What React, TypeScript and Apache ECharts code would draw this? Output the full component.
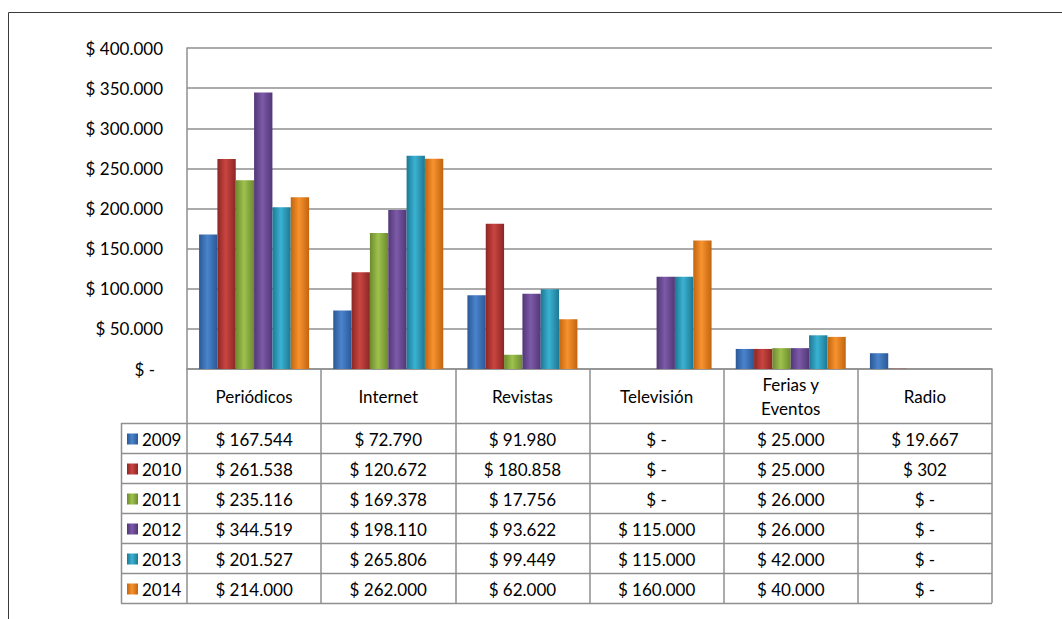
import React, { useEffect, useRef } from "react";
import * as echarts from "echarts";

const categories = ["Periódicos", "Internet", "Revistas", "Televisión", "Ferias y\nEventos", "Radio"];
const years = ["2009", "2010", "2011", "2012", "2013", "2014"];
const v2009 = [167544, 72790, 91980, 0, 25000, 19667];
const v2010 = [261538, 120672, 180858, 0, 25000, 302];
const v2011 = [235116, 169378, 17756, 0, 26000, 0];
const v2012 = [344519, 198110, 93622, 115000, 26000, 0];
const v2013 = [201527, 265806, 99449, 115000, 42000, 0];
const v2014 = [214000, 262000, 62000, 160000, 40000, 0];
const seriesValues = [v2009, v2010, v2011, v2012, v2013, v2014];

// [dark edge, light middle]
const palette: [string, string][] = [
  ["#2b5895", "#4a84cc"],
  ["#8c2624", "#c94541"],
  ["#6c8a2e", "#9fc24e"],
  ["#523777", "#7c5aa8"],
  ["#1d7893", "#3bb2d3"],
  ["#c2650f", "#f7922e"],
];

const FONT = "Lato, 'Open Sans', sans-serif";
const FS = 17;
const PL = 187, PT = 48, PW = 805, PH = 321;
const TBL_TOP = PT + PH;
const HEAD_BOTTOM = 423;
const ROW_H = 30;
const LEG_L = 121;
const GRID_COLOR = "#8f8f8f";

function fmt(v: number): string {
  if (!v) return "$ -";
  return "$ " + String(v).replace(/\B(?=(\d{3})+(?!\d))/g, ".");
}

function grad(i: number) {
  const [d, l] = palette[i];
  return {
    type: "linear", x: 0, y: 0, x2: 1, y2: 0,
    colorStops: [
      { offset: 0, color: d },
      { offset: 0.45, color: l },
      { offset: 1, color: d },
    ],
  };
}

export default function App() {
  const ref = useRef<HTMLDivElement>(null);
  useEffect(() => {
    const chart = echarts.init(ref.current!, null, { renderer: "svg" });
    const catW = PW / categories.length;
    const tableBottom = HEAD_BOTTOM + ROW_H * years.length;
    const graphics: any[] = [];
    // outer frame
    graphics.push({ type: "line", shape: { x1: 8.5, y1: 12.5, x2: 1062, y2: 12.5 }, style: { stroke: "#3a3a3a", lineWidth: 1 } });
    graphics.push({ type: "line", shape: { x1: 8.5, y1: 12.5, x2: 8.5, y2: 619 }, style: { stroke: "#3a3a3a", lineWidth: 1 } });
    // table horizontal lines
    for (let r = 0; r <= years.length; r++) {
      const y = HEAD_BOTTOM + r * ROW_H + 0.5;
      graphics.push({ type: "line", shape: { x1: LEG_L, y1: y, x2: PL + PW, y2: y }, style: { stroke: GRID_COLOR, lineWidth: 1.5 } });
    }
    graphics.push({ type: "line", shape: { x1: LEG_L + 0.5, y1: HEAD_BOTTOM, x2: LEG_L + 0.5, y2: tableBottom + 0.5 }, style: { stroke: GRID_COLOR, lineWidth: 1.5 } });
    years.forEach((yr, r) => {
      const cy = HEAD_BOTTOM + r * ROW_H + ROW_H / 2 + 1;
      graphics.push({ type: "rect", shape: { x: 127, y: cy - 5.5, width: 11, height: 11 }, style: { fill: grad(r) as any } });
      graphics.push({ type: "text", x: 142, y: cy, style: { text: yr, font: `${FS}px ${FONT}`, fill: "#000", textAlign: "left", textVerticalAlign: "middle" } });
      seriesValues[r].forEach((v, c) => {
        graphics.push({
          type: "text", x: PL + catW * (c + 0.5), y: cy,
          style: { text: fmt(v), font: `${FS}px ${FONT}`, fill: "#000", textAlign: "center", textVerticalAlign: "middle" },
        });
      });
    });

    chart.setOption({
      animation: false,
      textStyle: { fontFamily: FONT },
      grid: { left: PL, top: PT, width: PW, height: PH, containLabel: false },
      xAxis: {
        type: "category",
        data: categories,
        axisLine: { show: true, lineStyle: { color: GRID_COLOR, width: 1.5 } },
        axisTick: { show: true, length: tableBottom - TBL_TOP, lineStyle: { color: GRID_COLOR, width: 1.5 } },
        axisLabel: { show: true, interval: 0, margin: 27, verticalAlign: "middle", fontSize: FS, color: "#000", lineHeight: 24, fontFamily: FONT },
      },
      yAxis: {
        type: "value",
        min: 0, max: 400000, interval: 50000,
        axisLine: { show: true, lineStyle: { color: GRID_COLOR, width: 1.5 } },
        axisTick: { show: false },
        splitLine: { show: true, lineStyle: { color: GRID_COLOR, width: 1.5 } },
        axisLabel: {
          margin: 24, fontSize: FS, color: "#000", fontFamily: FONT,
          formatter: (v: number) => (v === 0 ? "{z|$ -}" : fmt(v)),
          rich: { z: { fontSize: FS, fontFamily: FONT, color: "#000", padding: [0, 8, 0, 0] } },
        },
      },
      series: years.map((yr, i) => ({
        name: yr,
        type: "bar",
        data: seriesValues[i],
        barGap: "0%",
        barCategoryGap: "18%",
        itemStyle: { color: grad(i) },
      })),
      graphic: graphics,
    });
    return () => chart.dispose();
  }, []);
  return <div ref={ref} style={{ position: "absolute", left: 0, top: 0, width: 1062, height: 619, background: "#fff" }} />;
}
